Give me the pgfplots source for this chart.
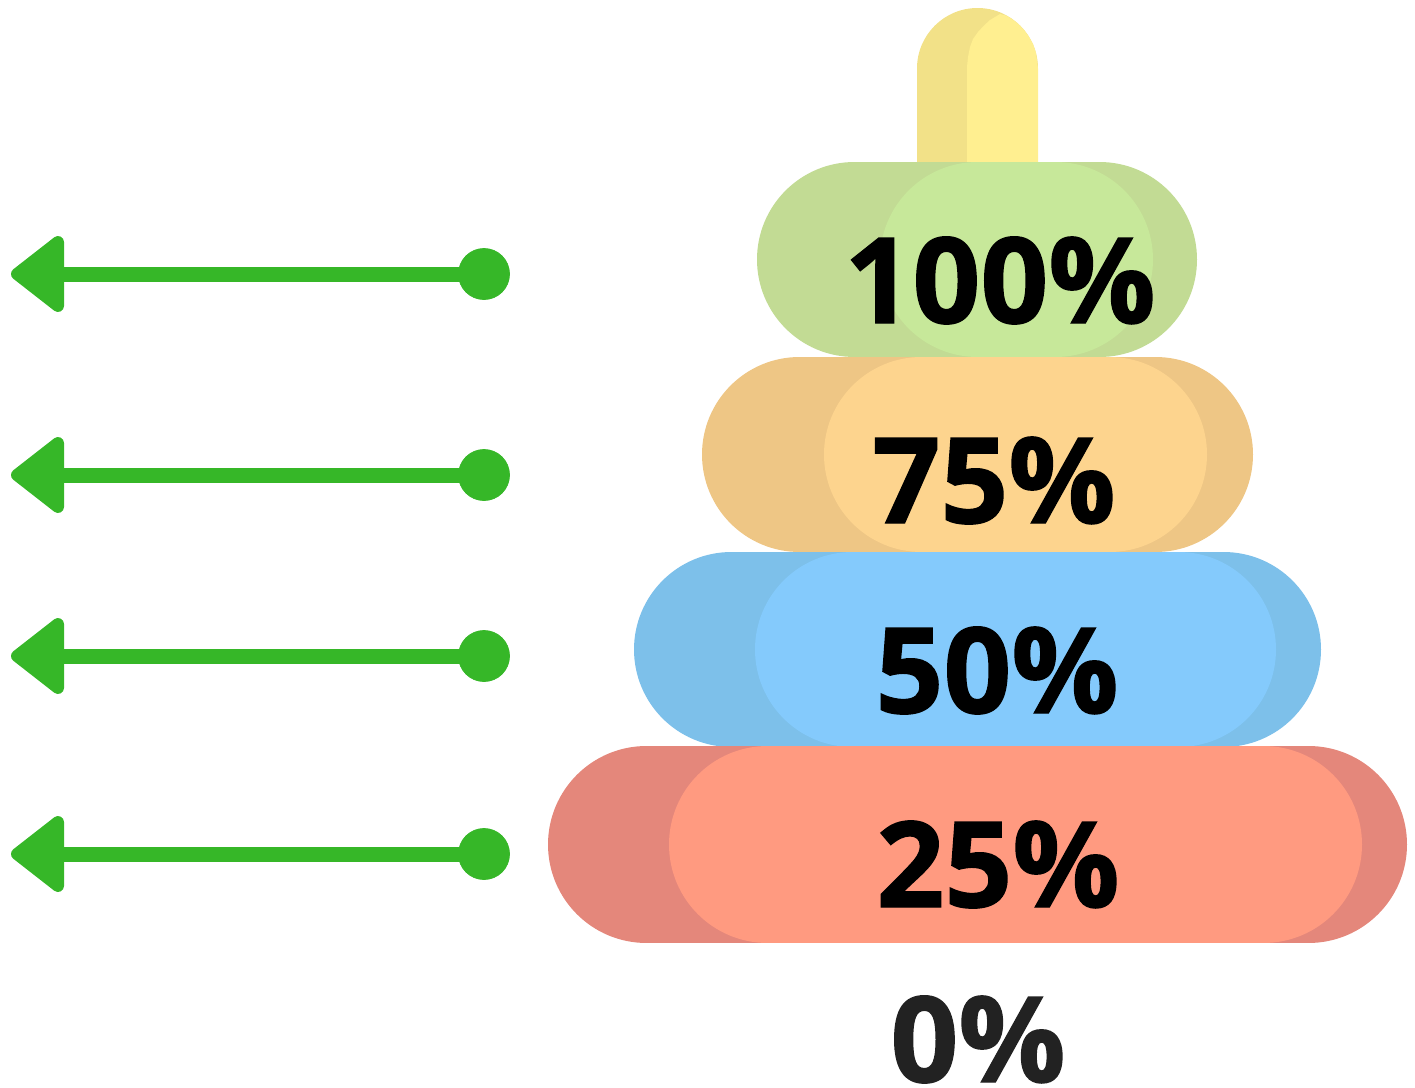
\documentclass[border=0pt]{standalone}
\usepackage{fontspec}
\setmainfont{Open Sans}[BoldFeatures={FakeBold=1.2}]
\usepackage{pgfplots}
\pgfplotsset{compat=1.18}
\definecolor{arrowgreen}{HTML}{36B728}
\definecolor{redout}{HTML}{E4877B}
\definecolor{redin}{HTML}{FF9A80}
\definecolor{blueout}{HTML}{7DC0EA}
\definecolor{bluein}{HTML}{84CAFC}
\definecolor{orangeout}{HTML}{EEC685}
\definecolor{orangein}{HTML}{FDD48E}
\definecolor{greenout}{HTML}{C2DB94}
\definecolor{greenin}{HTML}{C7E89A}
\definecolor{yellowout}{HTML}{F2E188}
\definecolor{yellowin}{HTML}{FFEF90}
\definecolor{zerotext}{HTML}{222222}
\tikzset{pct/.style={font=\fontsize{59.5}{60}\selectfont\bfseries, anchor=base, inner sep=0pt, text=black}}
\begin{document}
\begin{tikzpicture}
\begin{axis}[
    at={(0,0)}, anchor=south west,
    scale only axis,
    width=707.5pt, height=544pt,
    xmin=0, xmax=1415,
    ymin=0, ymax=1088,
    y dir=reverse,
    hide axis,
    clip=false,
    no markers,
    every axis plot/.append style={forget plot, line cap=round},
]
% peg
\addplot[yellowout, line width=60.5pt] coordinates {(977.5,68.5)(977.5,200)};
\addplot[fill=yellowin, draw=none] coordinates {(967,162)(967,67)(968,57)(970,47)(973,39)(978,32)(984,25.5)(990,20)(995,17)(1000,14)(1006,15.5)(1012,19)(1018,23.7)(1024,29.8)(1029,36.8)(1033,44)(1036,53)(1038,68.5)(1038,162)} --cycle;
% rings, outer then inner
\addplot[greenout, line width=97.5pt] coordinates {(854.5,259.5)(1099.5,259.5)};
\addplot[greenin, line width=97.5pt] coordinates {(977.5,259.5)(1055.5,259.5)};
\addplot[orangeout, line width=97.5pt] coordinates {(799.5,454.5)(1155.5,454.5)};
\addplot[orangein, line width=97.5pt] coordinates {(921.5,454.5)(1109.5,454.5)};
\addplot[blueout, line width=97.5pt] coordinates {(731.5,649.5)(1223.5,649.5)};
\addplot[bluein, line width=97.5pt] coordinates {(852.5,649.5)(1178.5,649.5)};
\addplot[redout, line width=98.5pt] coordinates {(646.5,844.5)(1308.5,844.5)};
\addplot[redin, line width=98.5pt] coordinates {(767.5,844.5)(1263.5,844.5)};
% arrows
\addplot[arrowgreen, line width=7.5pt, line cap=butt] coordinates {(60,274)(484,274)};
\addplot[arrowgreen, line width=7.5pt, line cap=butt] coordinates {(60,475)(484,475)};
\addplot[arrowgreen, line width=7.5pt, line cap=butt] coordinates {(60,656)(484,656)};
\addplot[arrowgreen, line width=7.5pt, line cap=butt] coordinates {(60,854)(484,854)};
\addplot[fill=arrowgreen, draw=arrowgreen, line width=6pt, line join=round] coordinates {(17,274)(58,242)(58,306)} --cycle;
\addplot[fill=arrowgreen, draw=arrowgreen, line width=6pt, line join=round] coordinates {(17,475)(58,443)(58,507)} --cycle;
\addplot[fill=arrowgreen, draw=arrowgreen, line width=6pt, line join=round] coordinates {(17,656)(58,624)(58,688)} --cycle;
\addplot[fill=arrowgreen, draw=arrowgreen, line width=6pt, line join=round] coordinates {(17,854)(58,822)(58,886)} --cycle;
\addplot[only marks, color=arrowgreen, mark=*, mark size=12.75pt, mark options={draw=arrowgreen, fill=arrowgreen}] coordinates {(484,274)(484,475)(484,656)(484,854)};
% labels
\node[pct] at (axis cs:1000,323) {100\%};
\node[pct] at (axis cs:994,523) {75\%};
\node[pct] at (axis cs:997,713) {50\%};
\node[pct] at (axis cs:998,907) {25\%};
\node[pct, text=zerotext] at (axis cs:978,1082) {0\%};
\end{axis}
\pgfresetboundingbox
\path[use as bounding box] (0,0) rectangle (707.5pt,544pt);
\end{tikzpicture}
\end{document}
